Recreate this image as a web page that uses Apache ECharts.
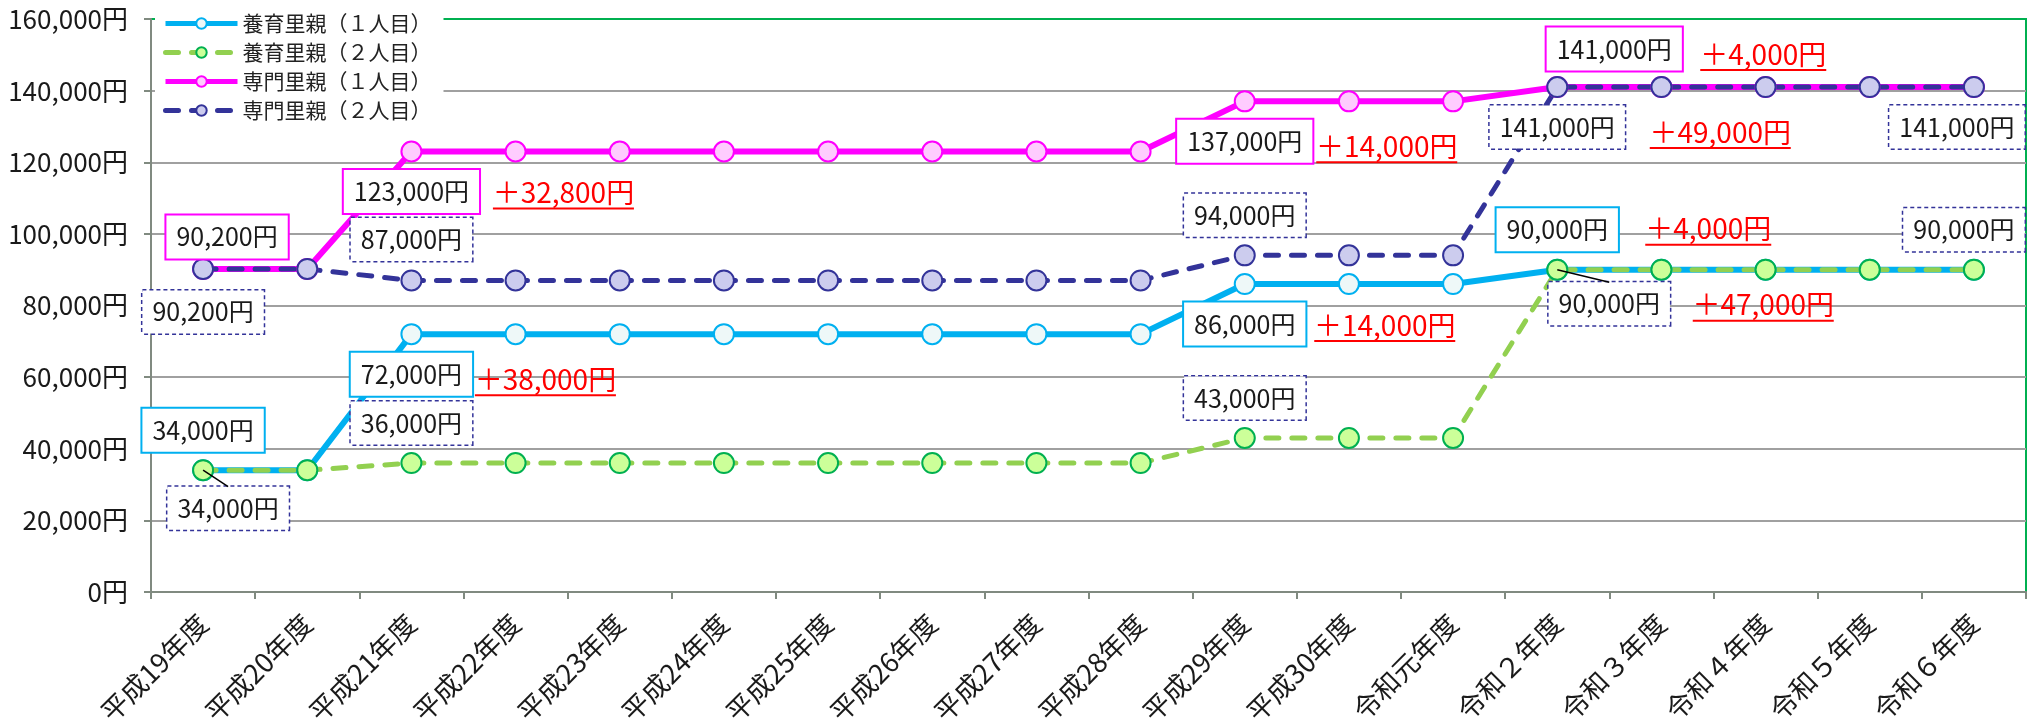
<!DOCTYPE html>
<html>
<head>
<meta charset="utf-8">
<script src="https://cdn.jsdelivr.net/npm/echarts@6/dist/echarts.min.js"></script>
<style>
html,body{margin:0;padding:0;background:#fff;}
#chart{width:2030px;height:718px;}
</style>
</head>
<body>
<div id="chart"></div>
<script>
// ---- data ----
const categories = ['平成19年度','平成20年度','平成21年度','平成22年度','平成23年度','平成24年度','平成25年度','平成26年度','平成27年度','平成28年度','平成29年度','平成30年度','令和元年度','令和２年度','令和３年度','令和４年度','令和５年度','令和６年度'];
const seriesNames = ['養育里親（１人目）','養育里親（２人目）','専門里親（１人目）','専門里親（２人目）'];
const fosterFirst  = [34000,34000,72000,72000,72000,72000,72000,72000,72000,72000,86000,86000,86000,90000,90000,90000,90000,90000];
const fosterSecond = [34000,34000,36000,36000,36000,36000,36000,36000,36000,36000,43000,43000,43000,90000,90000,90000,90000,90000];
const specialFirst = [90200,90200,123000,123000,123000,123000,123000,123000,123000,123000,137000,137000,137000,141000,141000,141000,141000,141000];
const specialSecond= [90200,90200,87000,87000,87000,87000,87000,87000,87000,87000,94000,94000,94000,141000,141000,141000,141000,141000];
const yTicks = [0,20000,40000,60000,80000,100000,120000,140000,160000];
const increaseTexts = ['＋32,800円','＋38,000円','＋14,000円','＋14,000円','＋4,000円','＋49,000円','＋4,000円','＋47,000円'];

// ---- annotation placement (offsets from the point, px) ----
// [seriesIndex, dataIndex, dx, dy, boxStyle, leader]
const boxNotes = [
  [0,0,0,-40,'cyan'],[0,2,0,40,'cyan'],[0,10,0,40,'cyan'],[0,13,0,-40,'cyan'],
  [1,0,25,38,'navy',true],[1,2,0,-40,'navy'],[1,10,0,-40,'navy'],[1,13,52,34,'navy',true],[1,17,-10,-40,'navy'],
  [2,0,24,-32,'magenta'],[2,2,0,40,'magenta'],[2,10,0,40,'magenta'],[2,13,57,-38,'magenta'],
  [3,0,0,43,'navy'],[3,2,0,-41,'navy'],[3,10,0,-40,'navy'],[3,13,0,40,'navy'],[3,17,-17,40,'navy']
];
// [seriesIndex, dataIndex, textIndex, dx, dy]
const redNotes = [
  [2,2,0,152,42],[0,2,1,134,46],[2,10,2,142,46],[0,10,3,140,42],
  [2,13,4,206,-32],[3,13,5,163,46],[0,13,6,151,-40],[1,13,7,206,36]
];

const FONT = "'Noto Sans CJK JP',sans-serif";
const fmt = v => v.toLocaleString('en-US') + '円';
const RED_SIZE = 28;
const BOX_HALF_H = 21.5;
const measureCtx = document.createElement('canvas').getContext('2d');
function textWidth(t, size) { measureCtx.font = size + 'px ' + FONT; return measureCtx.measureText(t).width; }

const boxStyles = {
  cyan:   {borderColor:'#00B0F0', borderWidth:2},
  magenta:{borderColor:'#FF00FF', borderWidth:2},
  navy:   {borderColor:'#333399', borderWidth:1.5, borderType:[4,3]}
};

const seriesStyles = [
  {line:{color:'#00B0F0', width:6}, item:{color:'#EEF8F8', borderColor:'#00B0F0', borderWidth:2}},
  {line:{color:'#92D050', width:5, type:[13,13], cap:'round'}, item:{color:'#CCFF99', borderColor:'#00B050', borderWidth:2}},
  {line:{color:'#FF00FF', width:6}, item:{color:'#FFCCFF', borderColor:'#FF00FF', borderWidth:2}},
  {line:{color:'#333399', width:5, type:[13,13], cap:'round'}, item:{color:'#CCCCEE', borderColor:'#333399', borderWidth:2}}
];
const allValues = [fosterFirst, fosterSecond, specialFirst, specialSecond];

function buildData(si) {
  return allValues[si].map((v, i) => {
    const n = boxNotes.find(b => b[0] === si && b[1] === i);
    if (!n) return v;
    return {
      value: v,
      label: Object.assign({
        show: true, position: 'inside', offset: [n[2], n[3]],
        formatter: p => fmt(p.value),
        color: '#1a1a1a', fontSize: 25, fontFamily: FONT, lineHeight: 30,
        padding: [7,10,6,10], backgroundColor: '#ffffff'
      }, boxStyles[n[4]])
    };
  });
}

function buildMarks(si) {
  return redNotes.filter(r => r[0] === si).map(r => {
    const txt = increaseTexts[r[2]];
    return {
      coord: [categories[r[1]], allValues[si][r[1]]],
      symbol: 'circle', symbolSize: 1, itemStyle: {color: 'rgba(0,0,0,0)'},
      label: {
        show: true, position: 'inside', offset: [r[3], r[4]],
        formatter: '{t|' + txt + '}\n{u| }',
        rich: {
          t: {color: '#FF0000', fontSize: RED_SIZE, fontFamily: FONT, lineHeight: 30},
          u: {width: Math.round(textWidth(txt, RED_SIZE)), height: 2, lineHeight: 2, fontSize: 1, backgroundColor: '#FF0000'}
        }
      }
    };
  });
}

// leader lines: [categoryIndex, value, dx, dy]
const leaderData = boxNotes.filter(b => b[5]).map(b => [b[1], allValues[b[0]][b[1]], b[2], b[3]]);

const lineSeries = seriesNames.map((name, si) => ({
  name, type: 'line', data: buildData(si),
  symbol: 'circle', symbolSize: 20,
  lineStyle: seriesStyles[si].line,
  itemStyle: seriesStyles[si].item,
  label: {show: false},
  markPoint: {data: buildMarks(si), silent: true}
}));

const leaderSeries = {
  type: 'custom', name: 'leader', silent: true, z: 5,
  data: leaderData,
  renderItem: (params, api) => {
    const p = api.coord([api.value(0), api.value(1)]);
    const dx = api.value(2), dy = api.value(3);
    return {
      type: 'line',
      shape: {x1: p[0], y1: p[1], x2: p[0] + dx, y2: p[1] + dy - BOX_HALF_H},
      style: {stroke: '#000', lineWidth: 1.5}
    };
  }
};

const chart = echarts.init(document.getElementById('chart'));
chart.setOption({
  animation: false,
  backgroundColor: '#ffffff',
  grid: {left: 151, right: 4, top: 19, bottom: 126, show: true, borderColor: '#00B050', borderWidth: 2, backgroundColor: 'transparent', containLabel: false, outerBoundsMode: 'none'},
  legend: {
    data: seriesNames, orient: 'vertical', left: 155, top: 8,
    itemWidth: 72, itemHeight: 13, itemGap: 8,
    backgroundColor: '#ffffff', padding: [5, 12, 5, 8],
    lineStyle: {width: 5},
    textStyle: {fontSize: 21, fontFamily: FONT, color: '#222', lineHeight: 21}
  },
  xAxis: {
    type: 'category', data: categories, boundaryGap: true,
    axisLine: {lineStyle: {color: '#808a80', width: 2}},
    axisTick: {show: true, length: 7, lineStyle: {color: '#808a80', width: 2}},
    axisLabel: {rotate: 45, margin: 27, fontSize: 27, fontFamily: FONT, color: '#1a1a1a', interval: 0}
  },
  yAxis: {
    type: 'value', min: yTicks[0], max: yTicks[yTicks.length-1], interval: yTicks[1]-yTicks[0],
    axisLine: {show: true, lineStyle: {color: '#808a80', width: 2}},
    axisTick: {show: true, length: 7, lineStyle: {color: '#808a80', width: 2}},
    axisLabel: {formatter: v => fmt(v), margin: 23, fontSize: 26, fontFamily: FONT, color: '#1a1a1a'},
    splitLine: {show: true, showMinLine: false, showMaxLine: false, lineStyle: {color: '#A0A0A0', width: 2}}
  },
  series: lineSeries.concat([leaderSeries])
});
</script>
</body>
</html>
